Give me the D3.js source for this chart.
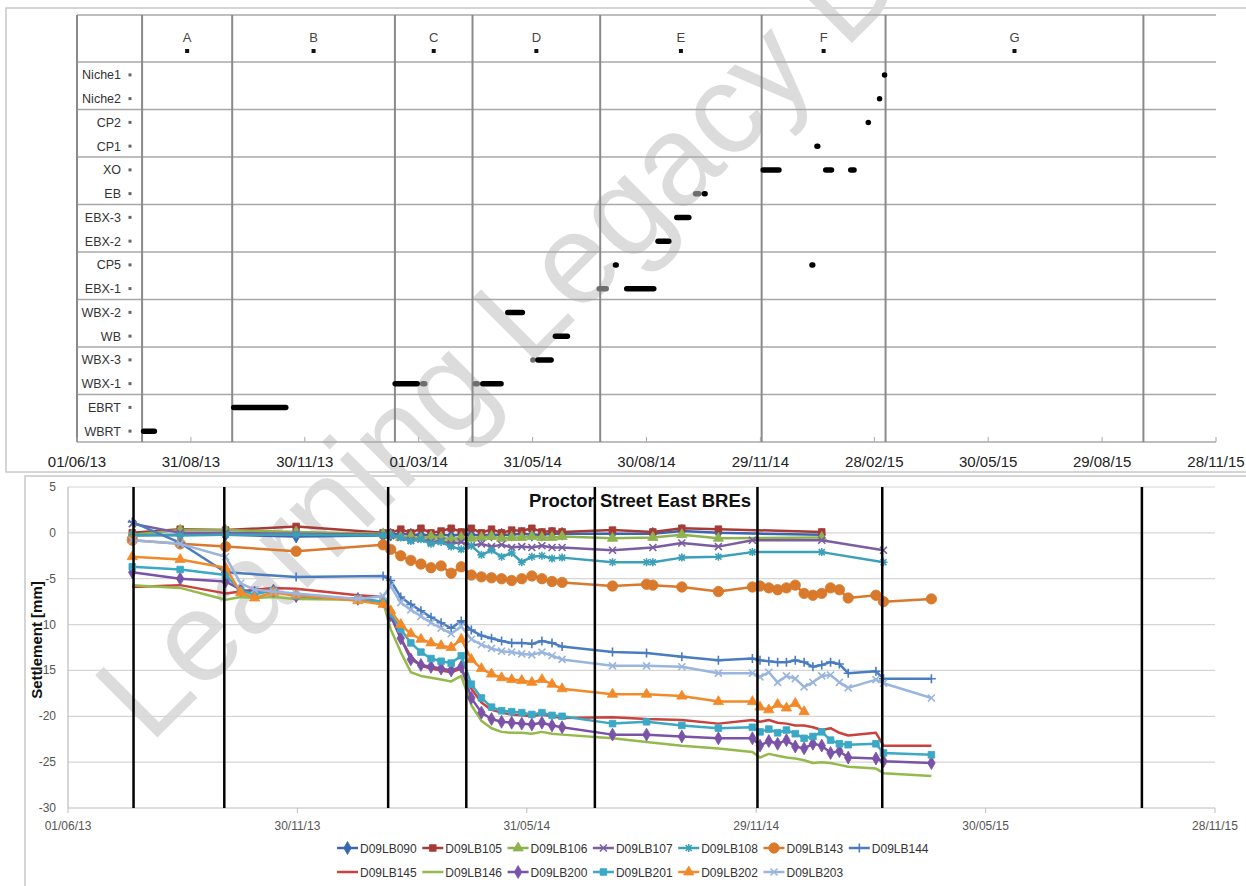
<!DOCTYPE html>
<html>
<head>
<meta charset="utf-8">
<script src="https://cdn.jsdelivr.net/npm/d3@7"></script>
<style>
  body { margin: 0; background: #fff; }
  svg { display: block; font-family: "Liberation Sans", Arial, sans-serif; }
</style>
</head>
<body>
<svg id="chart" width="1246" height="886"></svg>
<script>
// ---------- top panel: activity timeline ----------
const rowNames = ["Niche1","Niche2","CP2","CP1","XO","EB","EBX-3","EBX-2","CP5","EBX-1","WBX-2","WB","WBX-3","WBX-1","EBRT","WBRT"];
const phaseLetters = ["A","B","C","D","E","F","G"];
const phaseBounds = ["2013-07-23","2013-10-03","2014-02-10","2014-04-13","2014-07-24","2014-11-30","2015-03-09","2015-10-01"];
const topTicks = ["01/06/13","31/08/13","30/11/13","01/03/14","31/05/14","30/08/14","29/11/14","28/02/15","30/05/15","29/08/15","28/11/15"];

const taskRow   = ["WBRT","EBRT","WBX-1","WBX-1","WBX-1","WBX-1","WBX-2","WBX-3","WBX-3","WB","EBX-1","CP5","EBX-1","EBX-2","EBX-3","EB","EB","XO","CP5","CP1","XO","XO","CP2","Niche2","Niche1"];
const taskStart = ["2013-07-22","2013-10-02","2014-02-08","2014-03-02","2014-04-13","2014-04-19","2014-05-09","2014-05-29","2014-06-02","2014-06-16","2014-07-21","2014-08-03","2014-08-12","2014-09-06","2014-09-21","2014-10-06","2014-10-13","2014-11-29","2015-01-07","2015-01-11","2015-01-18","2015-02-07","2015-02-21","2015-03-02","2015-03-06"];
const taskEnd   = ["2013-08-04","2013-11-17","2014-03-02","2014-03-08","2014-04-19","2014-05-08","2014-05-25","2014-06-02","2014-06-17","2014-06-30","2014-07-31","2014-08-08","2014-09-07","2014-09-19","2014-10-05","2014-10-13","2014-10-18","2014-12-16","2015-01-12","2015-01-16","2015-01-27","2015-02-14","2015-02-25","2015-03-05","2015-03-09"];
const taskGrey  = [0,0,0,1,1,0,0,1,0,0,1,0,0,0,0,1,0,0,0,0,0,0,0,0,0];

// ---------- bottom panel: settlement ----------
const botTicks = ["01/06/13","30/11/13","31/05/14","29/11/14","30/05/15","28/11/15"];
const yTicks = [5,0,-5,-10,-15,-20,-25,-30];
const _ = null;
const surveyDates = ["2013-07-22","2013-08-29","2013-10-04","2013-10-16","2013-10-27","2013-11-11","2013-11-29","2014-01-17","2014-02-06",
  "2014-02-12","2014-02-20","2014-02-28","2014-03-08","2014-03-16","2014-03-24","2014-04-01","2014-04-09","2014-04-17","2014-04-25","2014-05-03","2014-05-11","2014-05-19","2014-05-27","2014-06-04","2014-06-12","2014-06-20","2014-06-28",
  "2014-08-07","2014-09-03","2014-09-08","2014-10-01","2014-10-30","2014-11-26","2014-12-02","2014-12-09","2014-12-16","2014-12-23","2014-12-30","2015-01-06","2015-01-13","2015-01-20","2015-01-27","2015-02-03","2015-02-10","2015-03-04","2015-03-10","2015-04-17"];

const lb090 = [-0.3,-0.2,-0.2,_,_,_,-0.4,_,-0.3,
  -0.2,-0.1,-0.2,-0.2,-0.3,-0.2,-0.3,-0.2,-0.2,-0.3,-0.2,-0.2,-0.2,-0.1,-0.2,-0.2,-0.1,-0.1,
  -0.1,_,-0.1,0.2,0.0,_,_,_,_,_,_,_,_,-0.2,_,_,_,_,_,_];
const lb105 = [0.0,0.4,0.3,_,_,_,0.7,_,0.0,
  0.0,0.4,0.0,0.5,0.0,0.2,0.5,0.1,0.5,0.0,0.4,0.0,0.3,0.2,0.5,0.1,0.2,0.1,
  0.3,_,0.1,0.5,0.4,_,_,_,_,_,_,_,_,0.1,_,_,_,_,_,_];
const lb106 = [-0.2,0.3,0.3,_,_,_,0.1,_,-0.1,
  -0.3,-0.5,-0.4,-0.6,-0.4,-0.5,-0.7,-0.5,-0.6,-0.5,-0.4,-0.6,-0.5,-0.5,-0.4,-0.5,-0.5,-0.4,
  -0.6,_,-0.5,-0.2,-0.6,_,_,_,_,_,_,_,_,-0.5,_,_,_,_,_,_];
const lb107 = [1.0,0.0,0.0,_,_,_,-0.1,_,-0.2,
  -0.3,-0.5,-0.8,-0.7,-1.0,-0.9,-1.2,-1.0,-1.4,-1.2,-1.5,-1.3,-1.6,-1.5,-1.6,-1.4,-1.6,-1.6,
  -1.9,_,-1.6,-1.1,-1.5,-0.8,_,_,_,_,_,_,_,-0.8,_,_,_,_,-1.9,_];
const lb108 = [-0.2,-0.3,-0.2,_,_,_,-0.2,_,-0.3,
  -0.2,-0.5,-0.9,-0.7,-1.2,-1.0,-1.5,-1.8,-1.4,-2.4,-1.9,-2.6,-2.2,-3.2,-2.6,-2.5,-2.8,-2.7,
  -3.2,-3.2,-3.2,-2.7,-2.6,-2.1,_,_,_,_,_,_,_,-2.1,_,_,_,_,-3.2,_];
const lb143 = [-0.8,-1.2,-1.5,_,_,_,-2.0,_,-1.3,
  -1.8,-2.5,-3.0,-3.4,-3.8,-3.6,-4.4,-3.7,-4.6,-4.8,-4.9,-5.0,-5.2,-5.0,-4.7,-5.0,-5.3,-5.4,
  -5.8,-5.6,-5.7,-5.9,-6.4,-5.9,-5.8,-6.0,-6.2,-6.0,-5.7,-6.6,-6.8,-6.6,-6.0,-6.2,-7.1,-6.8,-7.5,-7.2];
const lb144 = [1.2,-1.1,-4.3,_,_,_,-4.8,_,-4.7,
  -5.2,-7.0,-7.8,-8.5,-9.2,-9.8,-10.4,-9.6,-10.6,-11.2,-11.5,-11.8,-12.0,-12.0,-12.1,-11.8,-12.0,-12.4,
  -13.0,-13.1,_,-13.5,-13.9,-13.7,-13.9,-14.0,-14.1,-14.1,-13.9,-14.1,-14.6,-14.4,-14.1,-14.3,-15.3,-15.1,-15.9,-15.9];
const lb145 = [-5.9,-5.7,-6.6,-6.4,-6.2,-6.0,-6.1,-6.8,-7.0,
  -9.0,-11.5,-13.5,-14.5,-14.8,-15.0,-15.2,-14.8,-17.0,-18.5,-19.3,-19.6,-19.8,-19.9,-20.0,-19.8,-20.0,-20.2,
  -20.1,-20.3,_,-20.4,-20.8,-20.4,-20.6,-20.4,-20.7,-20.8,-21.0,-21.0,-21.2,-21.5,-21.3,-21.8,-22.1,-21.8,-23.2,-23.2];
const lb146 = [-5.7,-6.0,-7.3,-7.0,-7.1,-7.0,-7.2,-7.3,-7.5,
  -10.5,-13.0,-15.2,-15.6,-15.8,-16.0,-16.2,-15.6,-18.8,-20.5,-21.3,-21.7,-21.8,-21.8,-21.9,-21.7,-21.9,-22.0,
  -22.4,-22.8,_,-23.2,-23.5,-23.9,-24.5,-24.1,-24.3,-24.5,-24.6,-24.8,-25.1,-25.0,-25.1,-25.3,-25.5,-25.7,-26.2,-26.5];
const lb200 = [-4.3,-5.0,-5.3,-6.2,-6.5,-6.3,-6.9,-7.2,-7.5,
  -9.0,-11.5,-13.8,-14.4,-14.6,-14.8,-15.0,-14.6,-18.0,-19.6,-20.3,-20.6,-20.7,-20.8,-20.9,-20.7,-21.0,-21.2,
  -22.0,-22.0,_,-22.2,-22.4,-22.4,-23.2,-22.7,-23.0,-22.6,-23.3,-23.5,-23.0,-23.2,-24.0,-23.8,-24.5,-24.6,-24.9,-25.1];
const lb201 = [-3.7,-4.0,-4.6,-6.3,-6.7,-6.3,-6.9,-7.2,-7.5,
  -8.8,-10.5,-12.0,-13.0,-13.7,-14.0,-14.2,-13.4,-16.5,-18.0,-19.0,-19.4,-19.5,-19.6,-19.8,-19.6,-19.9,-20.0,
  -20.8,-20.6,_,-21.0,-21.3,-21.2,-21.7,-21.4,-21.8,-21.5,-21.9,-22.4,-22.2,-21.7,-22.6,-23.0,-23.1,-23.0,-24.0,-24.2];
const lb202 = [-2.6,-2.9,-3.8,-6.5,-7.1,-6.5,-6.8,-7.4,-7.8,
  -8.5,-10.0,-11.0,-11.6,-12.0,-12.3,-12.5,-11.6,-13.8,-14.8,-15.4,-15.8,-16.0,-16.1,-16.3,-16.0,-16.5,-17.0,
  -17.6,-17.6,_,-17.8,-18.4,-18.4,-19.0,-19.3,-18.7,-19.1,-18.6,-19.5,_,_,_,_,_,_,_,_];
const lb203 = [-0.8,-1.2,-2.6,-5.5,-6.2,-6.4,-6.6,-7.2,-6.9,
  -5.8,-7.6,-8.4,-9.1,-9.8,-10.4,-11.0,-10.2,-11.6,-12.2,-12.6,-12.9,-13.0,-13.2,-13.3,-13.0,-13.4,-13.8,
  -14.5,-14.5,_,-14.6,-15.3,-15.3,-15.7,-15.2,-16.3,-15.6,-15.9,-16.8,-16.3,-15.6,-15.5,-16.3,-16.9,-16.0,-16.4,-18.0];

const seriesNames = ["D09LB090","D09LB105","D09LB106","D09LB107","D09LB108","D09LB143","D09LB144","D09LB145","D09LB146","D09LB200","D09LB201","D09LB202","D09LB203"];
const seriesValues = [lb090, lb105, lb106, lb107, lb108, lb143, lb144, lb145, lb146, lb200, lb201, lb202, lb203];
const seriesColors = ["#3a66b0","#a63a36","#8fb24f","#7b5ea1","#3ba0b8","#d9792b","#4a7cc0","#c9423d","#93ba4b","#7a52a8","#3ba8c5","#f28a2a","#9ab5de"];
const seriesMarkers = ["diamond","square","triangle","x","star","circle","plus","none","none","diamond","square","triangle","x"];

// ---------- drawing ----------
const svg = d3.select("#chart");
const parseISO = d3.utcParse("%Y-%m-%d");
const parseTick = d3.utcParse("%d/%m/%y");

// panel frames
svg.append("rect").attr("x", 6).attr("y", 8).attr("width", 1260).attr("height", 464)
  .attr("fill", "none").attr("stroke", "#c8c8c8").attr("stroke-width", 1.5);
svg.append("rect").attr("x", 25).attr("y", 476).attr("width", 1240).attr("height", 430)
  .attr("fill", "none").attr("stroke", "#c8c8c8").attr("stroke-width", 1.5);

// watermark, behind the marks (cut at the top edge as in the source)
svg.append("text")
  .attr("transform", "translate(150,745) rotate(-45)")
  .attr("font-size", 128).attr("fill", "#dcdcdc")
  .text("Learning Legacy D");

// ===== top timeline =====
const xTop = d3.scaleUtc()
  .domain([parseTick(topTicks[0]), parseTick(topTicks[topTicks.length - 1])])
  .range([77, 1216]);
const yTop = d3.scaleBand().domain(rowNames).range([62, 442]);
const gTop = svg.append("g");

const hLines = [15].concat(rowNames.filter((r, i) => i % 2 === 0).map(r => yTop(r)), [442]);
gTop.selectAll(".hl").data(hLines).join("line")
  .attr("x1", 77).attr("x2", 1216)
  .attr("y1", d => d).attr("y2", d => d)
  .attr("stroke", "#a8a8a8").attr("stroke-width", 1.5);

const vDates = [xTop.domain()[0]].concat(phaseBounds.map(parseISO));
gTop.selectAll(".vl").data(vDates).join("line")
  .attr("x1", d => xTop(d)).attr("x2", d => xTop(d))
  .attr("y1", 15).attr("y2", 442)
  .attr("stroke", "#8a8a8a").attr("stroke-width", 2);

// axis ticks + labels
gTop.selectAll(".tk").data(topTicks).join("line")
  .attr("x1", d => xTop(parseTick(d))).attr("x2", d => xTop(parseTick(d)))
  .attr("y1", 442).attr("y2", 437).attr("stroke", "#a8a8a8");
gTop.selectAll(".tl").data(topTicks).join("text")
  .attr("x", d => xTop(parseTick(d))).attr("y", 467)
  .attr("text-anchor", "middle").attr("font-size", 15).attr("fill", "#222")
  .text(d => d);

// phase letters
const phaseMid = phaseLetters.map((p, i) => new Date((parseISO(phaseBounds[i]).getTime() + parseISO(phaseBounds[i + 1]).getTime()) / 2));
gTop.selectAll(".pl").data(phaseLetters).join("text")
  .attr("x", (d, i) => xTop(phaseMid[i])).attr("y", 42)
  .attr("text-anchor", "middle").attr("font-size", 13).attr("fill", "#444")
  .text(d => d);
gTop.selectAll(".pm").data(phaseLetters).join("rect")
  .attr("x", (d, i) => xTop(phaseMid[i]) - 2).attr("y", 49)
  .attr("width", 4).attr("height", 4).attr("fill", "#111");

// row labels
const rowY = r => yTop(r) + yTop.bandwidth() / 2 + 1;
gTop.selectAll(".rl").data(rowNames).join("text")
  .attr("x", 121).attr("y", d => rowY(d) + 4.5)
  .attr("text-anchor", "end").attr("font-size", 12.5).attr("fill", "#333")
  .text(d => d);
gTop.selectAll(".rm").data(rowNames).join("rect")
  .attr("x", 128.5).attr("y", d => rowY(d) - 1.5)
  .attr("width", 3).attr("height", 3).attr("fill", "#666");

// activity bars
gTop.selectAll(".bar").data(d3.range(taskRow.length)).join("rect")
  .attr("x", i => xTop(parseISO(taskStart[i])))
  .attr("width", i => Math.max(5.5, xTop(parseISO(taskEnd[i])) - xTop(parseISO(taskStart[i]))))
  .attr("y", i => rowY(taskRow[i]) - 2.75)
  .attr("height", 5.5).attr("rx", 2.75)
  .attr("fill", i => taskGrey[i] ? "#6e6e6e" : "#000");

// ===== bottom settlement chart =====
const xBot = d3.scaleUtc()
  .domain([parseTick(botTicks[0]), parseTick(botTicks[botTicks.length - 1])])
  .range([68, 1215]);
const yBot = d3.scaleLinear().domain([-30, 5]).range([808, 487]);
const gBot = svg.append("g");

gBot.selectAll(".gy").data(yTicks).join("line")
  .attr("x1", 68).attr("x2", 1215)
  .attr("y1", d => yBot(d)).attr("y2", d => yBot(d))
  .attr("stroke", d => d === -30 ? "#bdbdbd" : "#d6d6d6").attr("stroke-width", 1.2);
gBot.append("line").attr("x1", 68).attr("x2", 68).attr("y1", yBot(5)).attr("y2", yBot(-30))
  .attr("stroke", "#bdbdbd").attr("stroke-width", 1.2);
gBot.selectAll(".yl").data(yTicks).join("text")
  .attr("x", 56).attr("y", d => yBot(d) + 4)
  .attr("text-anchor", "end").attr("font-size", 12).attr("fill", "#555")
  .text(d => d);
gBot.selectAll(".xt").data(botTicks).join("line")
  .attr("x1", d => xBot(parseTick(d))).attr("x2", d => xBot(parseTick(d)))
  .attr("y1", 808).attr("y2", 813).attr("stroke", "#bdbdbd");
gBot.selectAll(".xl").data(botTicks).join("text")
  .attr("x", d => xBot(parseTick(d))).attr("y", 830)
  .attr("text-anchor", "middle").attr("font-size", 12).attr("fill", "#555")
  .text(d => d);

gBot.append("text").attr("x", 640).attr("y", 507)
  .attr("text-anchor", "middle").attr("font-size", 18.5).attr("font-weight", "bold").attr("fill", "#111")
  .text("Proctor Street East BREs");
gBot.append("text").attr("transform", "translate(42,640) rotate(-90)")
  .attr("text-anchor", "middle").attr("font-size", 15).attr("font-weight", "bold").attr("fill", "#111")
  .text("Settlement [mm]");

// marker shapes
const markerPath = {
  diamond: d3.symbol(d3.symbolDiamond, 48)(),
  square: d3.symbol(d3.symbolSquare, 44)(),
  triangle: d3.symbol(d3.symbolTriangle, 46)(),
  circle: d3.symbol(d3.symbolCircle, 85)(),
  x: "M-3.5,-3.5L3.5,3.5M-3.5,3.5L3.5,-3.5",
  plus: "M-4.5,0H4.5M0,-4.5V4.5",
  star: "M-4,0H4M0,-4V4M-3,-3L3,3M-3,3L3,-3"
};
const strokeOnly = { x: true, plus: true, star: true };

const line = d3.line().x(d => xBot(d[0])).y(d => yBot(d[1]));
seriesValues.forEach((vals, s) => {
  const pts = surveyDates.map((d, i) => [parseISO(d), vals[i]]).filter(p => p[1] !== null);
  const g = gBot.append("g");
  g.append("path").attr("d", line(pts)).attr("fill", "none")
    .attr("stroke", seriesColors[s]).attr("stroke-width", 2.5).attr("stroke-linejoin", "round");
  const m = seriesMarkers[s];
  if (m !== "none") {
    g.selectAll("path.mk").data(pts).join("path").attr("class", "mk")
      .attr("transform", d => `translate(${xBot(d[0])},${yBot(d[1])})`)
      .attr("d", markerPath[m])
      .attr("fill", strokeOnly[m] ? "none" : seriesColors[s])
      .attr("stroke", seriesColors[s]).attr("stroke-width", strokeOnly[m] ? 1.6 : 0.8);
  }
});

// phase boundaries over the data
gBot.selectAll(".pb").data(phaseBounds).join("line")
  .attr("x1", d => xBot(parseISO(d))).attr("x2", d => xBot(parseISO(d)))
  .attr("y1", yBot(5)).attr("y2", yBot(-30))
  .attr("stroke", "#000").attr("stroke-width", 2.5);

// legend
const legend = svg.append("g");
seriesNames.forEach((name, s) => {
  const row = s < 7 ? 0 : 1;
  const col = s < 7 ? s : s - 7;
  const lx = 337 + col * 85.3, ly = 848 + row * 24;
  const g = legend.append("g").attr("transform", `translate(${lx},${ly})`);
  g.append("line").attr("x1", 0).attr("x2", 21).attr("y1", 0).attr("y2", 0)
    .attr("stroke", seriesColors[s]).attr("stroke-width", 2.5);
  const m = seriesMarkers[s];
  if (m !== "none") {
    g.append("path").attr("transform", "translate(10.5,0)").attr("d", markerPath[m])
      .attr("fill", strokeOnly[m] ? "none" : seriesColors[s])
      .attr("stroke", seriesColors[s]).attr("stroke-width", strokeOnly[m] ? 1.6 : 0.8);
  }
  g.append("text").attr("x", 23).attr("y", 4.5).attr("font-size", 12).attr("fill", "#333").text(name);
});
</script>
</body>
</html>
